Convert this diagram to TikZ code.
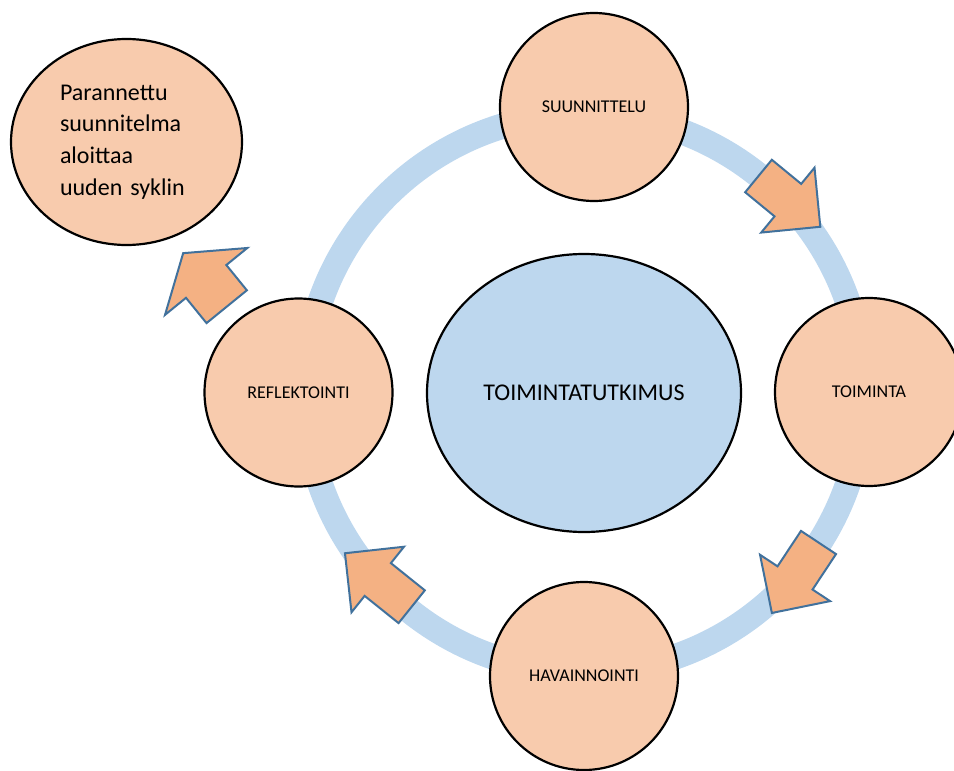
\documentclass[tikz,border=0pt]{standalone}
\usepackage{fontspec}
\setmainfont{Carlito}
\usetikzlibrary{shapes,shapes.geometric,shapes.arrows,positioning}
\definecolor{VPeach}{HTML}{F8CBAD}
\definecolor{VApricot}{HTML}{F4B183}
\definecolor{VSky}{HTML}{BDD7EE}
\definecolor{VSteel}{HTML}{41719C}
\tikzset{
    phase/.style = {draw, circle, fill=VPeach, line width=2.2pt,
        minimum size=188pt, inner sep=0pt,
        font=\fontsize{18}{22}\selectfont},
    core/.style = {draw, ellipse, fill=VSky, line width=2.2pt,
        minimum width=314pt, minimum height=278pt, inner sep=0pt,
        font=\fontsize{24}{29}\selectfont},
    oval/.style = {draw, ellipse, fill=VPeach, line width=2.2pt,
        minimum width=231pt, minimum height=206pt, inner sep=0pt,
        text width=133pt, align=left,
        font=\fontsize{24}{31.7}\selectfont},
    flow/.style = {single arrow, draw=VSteel, fill=VApricot, line width=2pt,
        inner xsep=0pt, inner ysep=20pt, outer sep=0pt,
        single arrow head extend=21pt, single arrow tip angle=90,
        anchor=tail},
    ring/.style = {draw=VSky, line width=25.5pt}
}

\begin{document}
\begin{tikzpicture}[x=1pt,y=-1pt]
  \useasboundingbox (0,0) rectangle (954,771);
  \clip (0,0) rectangle (954,771);
  % cycle band behind the phases
  \draw[ring] (584,393) circle[radius=279pt];
  \node[core] (tutkimus) at (584,393) {TOIMINTATUTKIMUS};
  \foreach \pos/\name/\txt in {{594,107}/suunnittelu/SUUNNITTELU,
      {869,392}/toiminta/TOIMINTA,
      {584,676}/havainnointi/HAVAINNOINTI,
      {298.5,392.5}/reflektointi/REFLEKTOINTI}{
    \node[phase] (\name) at (\pos) {\txt};
  };
  % arrows between the phases
  \foreach \pos/\ang/\len/\name in {{758.5,176}/-39.4/80/a1,
      {818.5,542.5}/-123.5/84.5/a2,
      {411.7,606.7}/141.3/85.5/a3}{
    \node[flow, rotate=\ang, minimum height=\len pt] (\name) at (\pos) {};
  };
  \node[flow, rotate=129.1, minimum height=69pt, inner ysep=25pt,
    single arrow head extend=27pt, single arrow tip angle=111] (a4) at (226.7,306.7) {};
  \node[oval] (uusi) at (126.5,142) {Parannettu\\suunnitelma\\aloittaa\\uuden syklin};
\end{tikzpicture}
\end{document}
